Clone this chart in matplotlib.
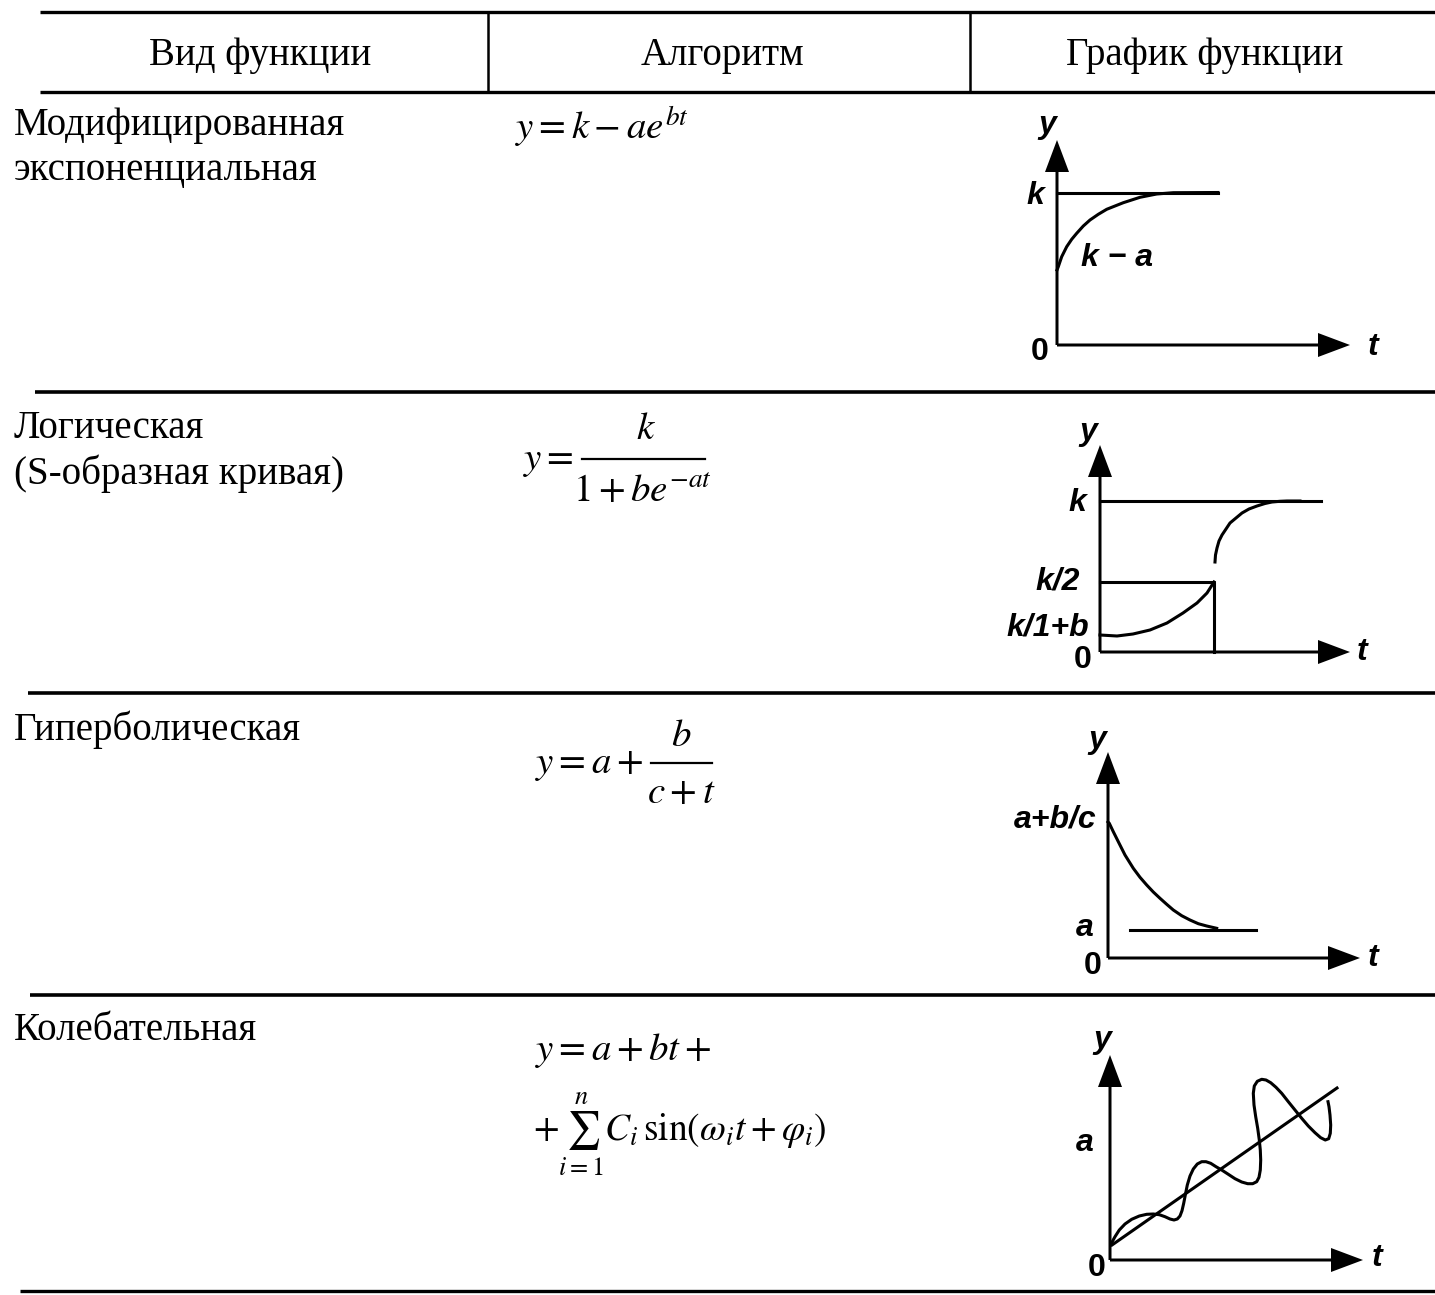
import matplotlib.pyplot as plt

plt.rcParams['mathtext.fontset'] = 'stix'

# table text
headers = ['Вид функции', 'Алгоритм', 'График функции']
kinds = [['Модифицированная', 'экспоненциальная'],
         ['Логическая', '(S-образная кривая)'],
         ['Гиперболическая'],
         ['Колебательная']]
formula_exp = r'$y = k - ae^{bt}$'
formula_log = [r'$y =$', r'$k$', r'$1+be^{-at}$']
formula_hyp = [r'$y = a +$', r'$b$', r'$c+t$']
formula_osc = [r'$y = a + bt +$', r'$+\sum_{i=1}^{n} C_i\,\mathrm{sin}(\omega_i t + \varphi_i)$']

# graph 1: modified exponential (offsets from origin, px)
g1_t = [0, 1.3, 4.7, 9.7, 14.7, 19.7, 26.3, 33, 41.3, 49.7, 66.3, 83, 99.7, 116.3, 161]
g1_y = [75, 78.3, 88.3, 98.3, 105.7, 111.7, 119, 125, 130.7, 135.7, 142.3, 147.7, 151, 152.3, 152.5]
g1_k = 152.5
g1_kend = 161

# graph 2: logistic
g2_low_t = [0, 17, 33, 50, 67, 83, 97, 107, 114]
g2_low_y = [17, 16, 18, 22, 29, 39, 49, 59, 70]
g2_up_t = [115, 115.5, 117, 119, 122, 126, 130, 136, 142, 149, 157, 165, 172, 180, 187, 200]
g2_up_y = [90, 97, 104, 111, 117, 123, 129, 134, 139, 143, 146, 148.5, 150, 150.7, 151, 151]
g2_k = 151
g2_khalf = 70
g2_tmid = 114
g2_kend = 221

# graph 3: hyperbolic
g3_t = [0, 1.3, 5.3, 10.3, 17, 25.3, 32, 38.7, 45.3, 52, 58.7, 65.3, 73.7, 82, 90.3, 98.7, 108.7]
g3_y = [136, 134.7, 126.3, 116.3, 103, 89.7, 80.7, 73, 66, 59.7, 53.7, 48, 42.3, 38, 34.3, 32, 29.7]
g3_a = 28
g3_a_t = [22, 148]

# graph 4: oscillating
g4_line_t = [2, 227]
g4_line_y = [15, 172]
g4_t = [1.7, 5, 9.3, 15, 21.7, 29.3, 36.7, 43.3, 49.3, 55, 60, 64, 67.3, 70, 72, 73.7,
        75.3, 77.3, 80, 83.3, 87.3, 91.7, 96, 100.7, 106, 111.7, 118.3, 125, 131.7,
        137.7, 142.7, 146.7, 149, 150.3, 150.7, 150.3, 149.3, 147.7, 145.7, 144,
        143.3, 144.3, 147.3, 151.7, 156, 160.7, 166, 171.7, 178.3, 185, 191.7, 198.3,
        205, 210.7, 215.3, 218.7, 220.3, 220.7, 220, 219, 218]
g4_y = [17.3, 23.3, 30, 36, 40.7, 44, 45.7, 46, 45.3, 43.3, 41, 40, 41, 44, 49.3, 56.7,
        65, 75, 84, 91, 96, 98.3, 98.3, 96.7, 93.3, 90, 85.7, 81.3, 78,
        76.3, 76.3, 78.3, 82.7, 90, 100, 110, 120, 131.7, 143.3, 155,
        166.7, 174, 178.7, 180.7, 180, 177.3, 172.7, 166.7, 158.3, 150, 141.7, 134,
        127.3, 122.3, 120, 121.3, 126.7, 135, 145, 153.3, 158.3]

W, H = 1435, 1295
fig = plt.figure(figsize=(W / 100, H / 100), dpi=100)
base = fig.add_axes([0, 0, 1, 1])
base.set_xlim(0, W)
base.set_ylim(H, 0)
base.axis('off')

serif = 'Liberation Serif'
fs = 28
mfs = 28

# table rules
for y, x0, lw in [(12, 40, 2.4), (92, 40, 2.4), (392, 35, 2.6), (693, 28, 2.6),
                  (995, 30, 2.6), (1291, 20, 2.4)]:
    base.plot([x0, W], [y, y], color='k', lw=lw, solid_capstyle='butt')
for x in [488, 970]:
    base.plot([x, x], [12, 92], color='k', lw=1.8)

for x, h in zip([260, 722, 1205], headers):
    base.text(x, 55, h, ha='center', va='center', fontsize=fs, family=serif)

row_top = [125, 428, 730, 1031]
for y, lines in zip(row_top, kinds):
    for i, s in enumerate(lines):
        base.text(14, y + 46 * i, s, ha='left', va='center', fontsize=fs, family=serif)

# formulas
base.text(515, 127, formula_exp, ha='left', va='center', fontsize=mfs)

base.text(523, 460, formula_log[0], ha='left', va='center', fontsize=mfs)
base.plot([582, 705], [459, 459], color='k', lw=1.6)
base.text(646, 428, formula_log[1], ha='center', va='center', fontsize=mfs)
base.text(642, 490, formula_log[2], ha='center', va='center', fontsize=mfs)

base.text(535, 764, formula_hyp[0], ha='left', va='center', fontsize=mfs)
base.plot([651, 712], [763, 763], color='k', lw=1.6)
base.text(681, 735, formula_hyp[1], ha='center', va='center', fontsize=mfs)
base.text(681, 792, formula_hyp[2], ha='center', va='center', fontsize=mfs)

base.text(535, 1050, formula_osc[0], ha='left', va='center', fontsize=mfs)
base.text(533, 1135, formula_osc[1], ha='left', va='center', fontsize=27)


def graph_ax(ox, oy, xlen, ylen, m=60):
    ax = fig.add_axes([(ox - m) / W, 1 - (oy + m) / H, (xlen + 2 * m) / W, (ylen + 2 * m) / H])
    ax.set_xlim(-m, xlen + m)
    ax.set_ylim(-m, ylen + m)
    ax.axis('off')
    ax.arrow(0, 0, 0, ylen, width=3, head_width=24, head_length=32,
             length_includes_head=True, color='k', lw=0)
    ax.arrow(0, 0, xlen, 0, width=3, head_width=24, head_length=32,
             length_includes_head=True, color='k', lw=0)
    return ax


lab = dict(fontsize=23, family='Liberation Sans', style='italic', weight='bold',
           ha='center', va='center')
lab0 = dict(fontsize=23, family='Liberation Sans', weight='bold', ha='center', va='center')
lw = 2.2

ax1 = graph_ax(1057, 345, 293, 205)
ax1.plot([0, g1_kend], [g1_k, g1_k], color='k', lw=lw)
ax1.plot(g1_t, g1_y, color='k', lw=lw)
ax1.text(-10, 220, 'y', **lab)
ax1.text(-22, 149, 'k', **lab)
ax1.text(60, 87, 'k − a', **lab)
ax1.text(-17, -7, '0', **lab0)
ax1.text(316, -2, 't', **lab)

ax2 = graph_ax(1100, 652, 250, 207)
ax2.plot([0, g2_kend], [g2_k, g2_k], color='k', lw=lw)
ax2.plot([0, g2_tmid, g2_tmid], [g2_khalf, g2_khalf, 0], color='k', lw=lw)
ax2.plot(g2_low_t, g2_low_y, color='k', lw=lw)
ax2.plot(g2_up_t, g2_up_y, color='k', lw=lw)
ax2.text(-12, 220, 'y', **lab)
ax2.text(-23, 149, 'k', **lab)
ax2.text(-42, 70, 'k/2', **lab)
ax2.text(-52, 25, 'k/1+b', **lab)
ax2.text(-17, -8, '0', **lab0)
ax2.text(262, 0, 't', **lab)

ax3 = graph_ax(1108, 958, 252, 206)
ax3.plot(g3_a_t, [g3_a, g3_a], color='k', lw=lw)
ax3.plot(g3_t, g3_y, color='k', lw=lw)
ax3.text(-11, 218, 'y', **lab)
ax3.text(-53, 139, 'a+b/c', **lab)
ax3.text(-23, 30, 'a', **lab)
ax3.text(-15, -8, '0', **lab0)
ax3.text(265, 0, 't', **lab)

ax4 = graph_ax(1110, 1260, 253, 205)
ax4.plot(g4_line_t, g4_line_y, color='k', lw=lw)
ax4.plot(g4_t, g4_y, color='k', lw=lw)
ax4.text(-8, 220, 'y', **lab)
ax4.text(-25, 117, 'a', **lab)
ax4.text(-13, -8, '0', **lab0)
ax4.text(267, 2, 't', **lab)

fig.savefig('out.png', dpi=100)
